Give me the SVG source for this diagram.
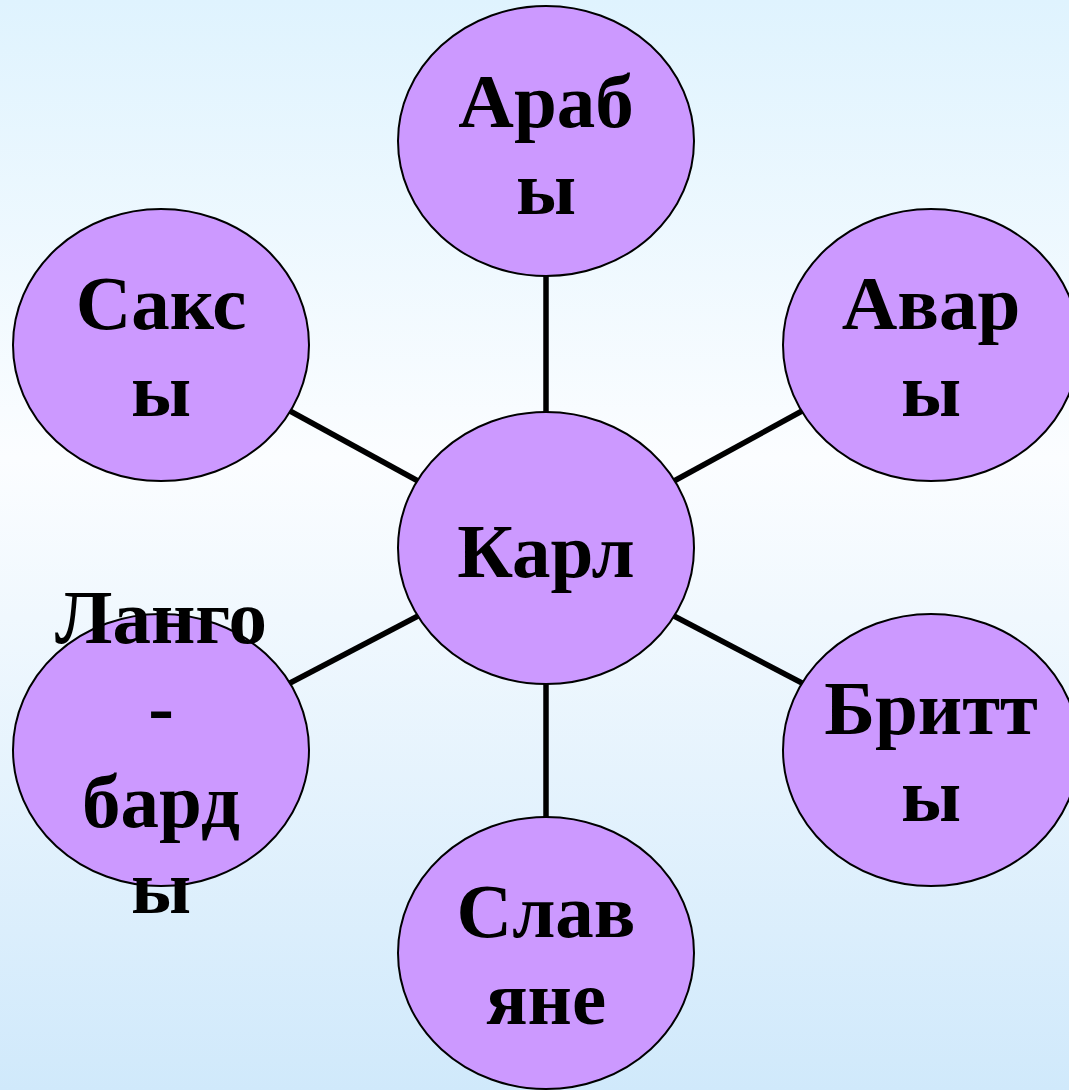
<svg xmlns="http://www.w3.org/2000/svg" width="1069" height="1090" viewBox="0 0 1069 1090">
<defs>
<linearGradient id="bg" x1="0" y1="0" x2="0" y2="1">
<stop offset="0" stop-color="#dff3fe"/>
<stop offset="0.42" stop-color="#fbfdff"/>
<stop offset="1" stop-color="#d0e9fb"/>
</linearGradient>
<style>
.n{fill:#cc99ff;stroke:#000;stroke-width:2}
.t{font-family:"Liberation Serif","Times New Roman",serif;font-weight:bold;font-size:77px;fill:#000;text-anchor:middle}
.c{stroke:#000;stroke-width:5.5;fill:none}
</style>
</defs>
<rect x="0" y="0" width="1069" height="1090" fill="url(#bg)"/>
<g id="connectors">
<line class="c" x1="546" y1="276" x2="546" y2="413"/>
<line class="c" x1="546" y1="684" x2="546" y2="818"/>
<line class="c" x1="290" y1="411" x2="418" y2="481"/>
<line class="c" x1="290" y1="683" x2="418" y2="616"/>
<line class="c" x1="674" y1="481" x2="802" y2="411"/>
<line class="c" x1="674" y1="616" x2="802" y2="683"/>
</g>
<g id="karl">
<ellipse class="n" cx="546" cy="548" rx="148" ry="136"/>
<text class="t" x="546" y="577">Карл</text>
</g>
<g id="araby">
<ellipse class="n" cx="546" cy="141" rx="148" ry="135"/>
<text class="t" x="546" y="127">Араб</text>
<text class="t" x="546" y="214">ы</text>
</g>
<g id="saksy">
<ellipse class="n" cx="161" cy="345" rx="148" ry="136"/>
<text class="t" x="161" y="329">Сакс</text>
<text class="t" x="161" y="416">ы</text>
</g>
<g id="avary">
<ellipse class="n" cx="931" cy="345" rx="148" ry="136"/>
<text class="t" x="931" y="329">Авар</text>
<text class="t" x="931" y="416">ы</text>
</g>
<g id="britty">
<ellipse class="n" cx="931" cy="750" rx="148" ry="136"/>
<text class="t" x="931" y="734">Бритт</text>
<text class="t" x="931" y="821">ы</text>
</g>
<g id="slavyane">
<ellipse class="n" cx="546" cy="953" rx="148" ry="136"/>
<text class="t" x="546" y="937">Слав</text>
<text class="t" x="546" y="1024">яне</text>
</g>
<g id="langobardy">
<ellipse class="n" cx="161" cy="750" rx="148" ry="136"/>
<text class="t" x="161" y="643">Ланго</text>
<text class="t" x="161" y="733">-</text>
<text class="t" x="161" y="827">бард</text>
<text class="t" x="161" y="913">ы</text>
</g>
</svg>
